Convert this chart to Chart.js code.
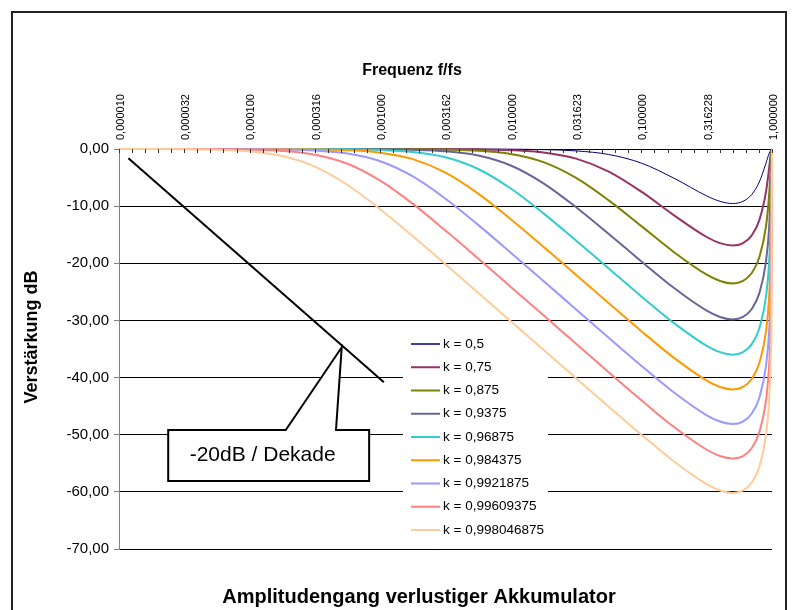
<!DOCTYPE html>
<html>
<head>
<meta charset="utf-8">
<script src="https://cdn.jsdelivr.net/npm/chart.js@4.4.0/dist/chart.umd.min.js"></script>
<style>
  html, body { margin: 0; padding: 0; background: #fff; }
</style>
</head>
<body>
<canvas id="chart" width="792" height="610"></canvas>
<script>
// frequency points f/fs
const freqs = [0.00001, 0.0000177828, 0.0000316228, 0.0000562341, 0.0001, 0.000177828, 0.000316228, 0.000562341,
  0.001, 0.00177828, 0.00316228, 0.00562341, 0.01, 0.0177828, 0.0316228, 0.0562341, 0.1, 0.177828, 0.316228,
  0.4, 0.5, 0.6, 0.7, 0.8, 0.9, 0.95, 0.98, 0.99, 1.0];

const kLabels = ['k = 0,5', 'k = 0,75', 'k = 0,875', 'k = 0,9375', 'k = 0,96875', 'k = 0,984375',
  'k = 0,9921875', 'k = 0,99609375', 'k = 0,998046875'];

// gain in dB per series
const gainK1 = [0, 0, 0, 0, 0, 0, 0, 0, 0, 0, 0, -0.01, -0.03, -0.11, -0.33, -0.96, -2.47, -5.12, -8.21,
  -9.16, -9.54, -9.16, -7.95, -5.76, -2.47, -0.78, -0.14, -0.03, 0];
const gainK2 = [0, 0, 0, 0, 0, 0, 0, 0, 0, -0.01, -0.02, -0.06, -0.20, -0.61, -1.68, -3.95, -7.47, -11.61, -15.40,
  -16.48, -16.90, -16.48, -15.11, -12.45, -7.47, -3.37, -0.75, -0.20, 0];
const gainK3 = [0, 0, 0, 0, 0, 0, 0, 0, -0.01, -0.03, -0.10, -0.29, -0.87, -2.30, -5.06, -8.99, -13.50, -18.06, -21.99,
  -23.09, -23.52, -23.09, -21.69, -18.94, -13.50, -8.12, -2.75, -0.87, 0];
const gainK4 = [0, 0, 0, 0, 0, 0, 0, -0.01, -0.04, -0.13, -0.39, -1.14, -2.89, -6.01, -10.19, -14.87, -19.67, -24.33, -28.29,
  -29.39, -29.83, -29.39, -27.99, -25.22, -19.67, -13.89, -6.80, -2.89, 0];
const gainK5 = [0, 0, 0, 0, 0, 0, -0.02, -0.05, -0.17, -0.51, -1.44, -3.50, -6.92, -11.26, -16.02, -20.92, -25.80, -30.48, -34.45,
  -35.55, -35.99, -35.55, -34.15, -31.37, -25.80, -19.92, -12.21, -6.92, 0];
const gainK6 = [0, 0, 0, 0, 0, -0.02, -0.07, -0.21, -0.64, -1.77, -4.14, -7.81, -12.28, -17.10, -22.03, -26.98, -31.88, -36.56, -40.54,
  -41.64, -42.08, -41.64, -40.24, -37.46, -31.88, -25.97, -18.10, -12.28, 0];
const gainK7 = [0, 0, 0, 0, -0.03, -0.09, -0.27, -0.80, -2.15, -4.81, -8.70, -13.28, -18.14, -23.09, -28.07, -33.03, -37.93, -42.62, -46.60,
  -47.70, -48.13, -47.70, -46.29, -43.52, -37.93, -32.02, -24.11, -18.14, 0];
const gainK8 = [0, 0, 0, -0.04, -0.11, -0.34, -1.00, -2.59, -5.54, -9.61, -14.28, -19.16, -24.13, -29.11, -34.10, -39.07, -43.97, -48.66, -52.63,
  -53.73, -54.17, -53.73, -52.33, -49.55, -43.97, -38.06, -30.13, -24.13, 0];
const gainK9 = [0, -0.01, -0.04, -0.14, -0.43, -1.23, -3.08, -6.30, -10.54, -15.27, -20.18, -25.15, -30.14, -35.14, -40.13, -45.10, -50.00, -54.69, -58.66,
  -59.76, -60.20, -59.76, -58.36, -55.58, -50.00, -44.08, -36.16, -30.14, 0];

// axis ticks
const xTickValues = [0.00001, 0.0000316228, 0.0001, 0.000316228, 0.001, 0.00316228, 0.01, 0.0316228, 0.1, 0.316228, 1];
const yTickValues = [0, -10, -20, -30, -40, -50, -60, -70];

// hand drawn -20 dB/decade line
const slopeLine = [{ x: 0.0000118, y: -1.63 }, { x: 0.001067, y: -40.83 }];

const FONT = '"Liberation Sans", Arial, Helvetica, sans-serif';
const colors = ['#000080', '#993366', '#808000', '#666699', '#33CCCC', '#FF9900', '#9999FF', '#FF8080', '#FFCC99'];
const widths = [1, 2, 2, 2, 2, 2, 2, 2, 2];

Chart.defaults.font.family = FONT;
Chart.defaults.color = '#000';

const series = [gainK1, gainK2, gainK3, gainK4, gainK5, gainK6, gainK7, gainK8, gainK9];

const datasets = series.map((vals, i) => ({
  label: kLabels[i],
  data: freqs.map((f, j) => ({ x: f, y: vals[j] })),
  borderColor: colors[i],
  borderWidth: widths[i],
  pointRadius: 0,
  cubicInterpolationMode: 'monotone',
  fill: false,
  clip: 2,
  order: 20 - i
}));

datasets.push({
  label: '',
  data: slopeLine,
  borderColor: '#000',
  borderWidth: 2,
  pointRadius: 0,
  fill: false,
  order: 0,
  isHelper: true
});

// small tick marks on the top axis, every 1/10 decade
const minorTicks = {
  id: 'minorTicks',
  afterDraw(chart) {
    const ctx = chart.ctx;
    const xs = chart.scales.x;
    const top = chart.chartArea.top;
    ctx.save();
    ctx.strokeStyle = '#333';
    ctx.lineWidth = 1;
    ctx.beginPath();
    for (let i = 0; i <= 50; i++) {
      const px = Math.round(xs.getPixelForValue(Math.pow(10, -5 + i / 10))) + 0.5;
      ctx.moveTo(px, top);
      ctx.lineTo(px, top + 4);
    }
    ctx.stroke();
    ctx.restore();
  }
};

// legend box inside the plot
const boxLegend = {
  id: 'boxLegend',
  beforeDatasetsDraw(chart) {
    const ctx = chart.ctx;
    ctx.save();
    ctx.fillStyle = '#fff';
    ctx.fillRect(403, 332, 145, 210);
    ctx.font = '13.5px ' + FONT;
    ctx.textBaseline = 'middle';
    ctx.textAlign = 'left';
    chart.data.datasets.forEach((ds, i) => {
      if (ds.isHelper) return;
      const y = 344 + i * 23.25;
      ctx.strokeStyle = ds.borderColor;
      ctx.lineWidth = ds.borderWidth === 1 ? 1.5 : 2;
      ctx.beginPath();
      ctx.moveTo(411, y);
      ctx.lineTo(440, y);
      ctx.stroke();
      ctx.fillStyle = '#000';
      ctx.fillText(ds.label, 443, y);
    });
    ctx.restore();
  }
};

// callout "-20dB / Dekade"
const callout = {
  id: 'callout',
  afterDatasetsDraw(chart, args, opts) {
    const ctx = chart.ctx;
    const xs = chart.scales.x, ys = chart.scales.y;
    const X = v => xs.getPixelForValue(v), Y = v => ys.getPixelForValue(v);
    const b = opts.box;
    ctx.save();
    ctx.beginPath();
    ctx.moveTo(X(b.left), Y(b.top));
    ctx.lineTo(X(opts.base[0]), Y(b.top));
    ctx.lineTo(X(opts.tip.x), Y(opts.tip.y));
    ctx.lineTo(X(opts.base[1]), Y(b.top));
    ctx.lineTo(X(b.right), Y(b.top));
    ctx.lineTo(X(b.right), Y(b.bottom));
    ctx.lineTo(X(b.left), Y(b.bottom));
    ctx.closePath();
    ctx.fillStyle = '#fff';
    ctx.fill();
    ctx.strokeStyle = '#000';
    ctx.lineWidth = 2;
    ctx.lineJoin = 'miter';
    ctx.stroke();
    ctx.fillStyle = '#000';
    ctx.font = '21px ' + FONT;
    ctx.textAlign = 'center';
    ctx.textBaseline = 'middle';
    ctx.fillText(opts.text, X(opts.textAt.x), Y(opts.textAt.y));
    ctx.restore();
  }
};

// frame and titles
const frameTitles = {
  id: 'frameTitles',
  afterDraw(chart) {
    const ctx = chart.ctx;
    ctx.save();
    ctx.strokeStyle = '#222';
    ctx.lineWidth = 2;
    ctx.strokeRect(12, 12, 774, 620);
    ctx.fillStyle = '#000';
    ctx.textAlign = 'center';
    ctx.textBaseline = 'middle';
    ctx.font = 'bold 16px ' + FONT;
    ctx.fillText('Frequenz f/fs', 412, 71);
    ctx.font = 'bold 20px ' + FONT;
    ctx.fillText('Amplitudengang verlustiger Akkumulator', 419, 597);
    ctx.translate(32, 337);
    ctx.rotate(-Math.PI / 2);
    ctx.font = 'bold 18px ' + FONT;
    ctx.fillText('Verstärkung dB', 0, 0);
    ctx.restore();
  }
};

new Chart(document.getElementById('chart'), {
  type: 'line',
  data: { datasets },
  plugins: [minorTicks, boxLegend, callout, frameTitles],
  options: {
    responsive: false,
    animation: false,
    devicePixelRatio: 1,
    layout: { padding: { left: 0, top: 0, right: 20, bottom: 61 } },
    scales: {
      x: {
        type: 'logarithmic',
        position: 'top',
        min: 0.00001,
        max: 1,
        afterBuildTicks: scale => { scale.ticks = xTickValues.map(v => ({ value: v })); },
        afterFit: scale => { scale.height = 149; },
        ticks: {
          autoSkip: false,
          minRotation: 90,
          maxRotation: 90,
          padding: 9,
          labelOffset: 15,
          font: { size: 11 },
          color: '#000',
          callback: v => Number(v).toFixed(6).replace('.', ',')
        },
        grid: { display: false, drawTicks: false },
        border: { display: true, color: '#000', width: 1 }
      },
      y: {
        min: -70,
        max: 0,
        afterBuildTicks: scale => { scale.ticks = yTickValues.map(v => ({ value: v })); },
        afterFit: scale => { scale.width = 119; },
        ticks: {
          padding: 5,
          font: { size: 15 },
          color: '#000',
          callback: v => Number(v).toFixed(2).replace('.', ',')
        },
        grid: { color: '#000', lineWidth: 1, tickLength: 5, tickColor: '#808080' },
        border: { color: '#808080', width: 1 }
      }
    },
    plugins: {
      legend: { display: false },
      tooltip: { enabled: false },
      callout: {
        box: { left: 0.00002381, right: 0.0008229, top: -49.18, bottom: -58.1 },
        base: [0.0001892, 0.0004586],
        tip: { x: 0.0005075, y: -34.7 },
        text: '-20dB / Dekade',
        textAt: { x: 0.0001259, y: -53.55 }
      }
    }
  }
});
</script>
</body>
</html>
